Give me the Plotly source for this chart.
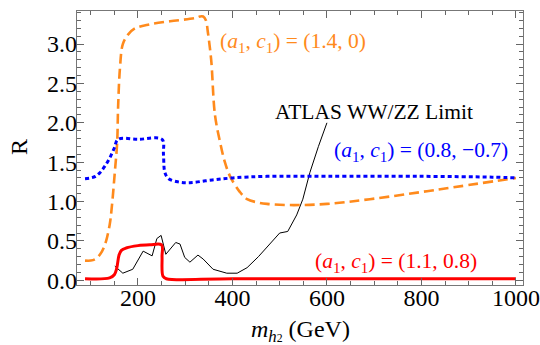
import plotly.graph_objects as go

# Orange dashed: (a1, c1) = (1.4, 0)
orange_x = [88, 100, 110, 120, 130, 140, 145, 151, 156, 158, 162, 168, 179, 194, 225, 268, 321, 331, 338, 344, 348, 355, 363, 374, 384, 395, 416, 431, 452, 473, 530, 600, 691, 833, 1000]
orange_y = [0.25, 0.25, 0.27, 0.33, 0.45, 0.7, 0.95, 1.37, 1.75, 2.2, 2.7, 3.0, 3.12, 3.2, 3.25, 3.29, 3.33, 3.35, 3.35, 3.3, 3.15, 2.8, 2.1, 1.75, 1.5, 1.32, 1.12, 1.03, 0.99, 0.97, 0.955, 0.97, 1.03, 1.15, 1.3]

# Blue dotted: (a1, c1) = (0.8, -0.7)
blue_x = [88, 100, 110, 120, 130, 140, 150, 158, 200, 251, 254, 257, 265, 285, 310, 352, 401, 473, 600, 800, 950, 1000]
blue_y = [1.29, 1.30, 1.32, 1.37, 1.45, 1.55, 1.68, 1.79, 1.79, 1.79, 1.6, 1.37, 1.29, 1.25, 1.24, 1.27, 1.30, 1.32, 1.32, 1.32, 1.31, 1.30]

# Red solid: (a1, c1) = (1.1, 0.8)
red_x = [88, 140, 150, 155, 160, 165, 175, 200, 225, 250, 251, 253, 260, 400, 1000]
red_y = [0.02, 0.03, 0.07, 0.15, 0.32, 0.38, 0.41, 0.44, 0.45, 0.45, 0.3, 0.05, 0.02, 0.02, 0.02]

# Black: ATLAS WW/ZZ limit
atlas_x = [151, 168, 189, 211, 230, 240, 249, 259, 280, 289, 299, 310, 327, 338, 359, 388, 410, 431, 455, 473, 490, 500, 517, 536, 549, 564, 582, 600]
atlas_y = [0.18, 0.09, 0.14, 0.37, 0.31, 0.53, 0.57, 0.33, 0.48, 0.46, 0.29, 0.23, 0.32, 0.27, 0.14, 0.09, 0.09, 0.16, 0.3, 0.42, 0.52, 0.6, 0.62, 0.83, 1.03, 1.37, 1.7, 2.0]

x_ticks = [200, 400, 600, 800, 1000]
y_ticks = [0.0, 0.5, 1.0, 1.5, 2.0, 2.5, 3.0]

ORANGE = "#FF8A1C"
BLUE = "#0000FF"
RED = "#FF0000"
FONT = "Liberation Serif, Times New Roman, serif"
ANN = 21.5

fig = go.Figure()
fig.add_trace(go.Scatter(x=atlas_x, y=atlas_y, mode="lines",
                         line=dict(color="black", width=1), hoverinfo="skip"))
fig.add_trace(go.Scatter(x=orange_x, y=orange_y, mode="lines", line_shape="spline",
                         line=dict(color=ORANGE, width=2.6, dash="10px,5px")))
fig.add_trace(go.Scatter(x=blue_x, y=blue_y, mode="lines", line_shape="spline",
                         line=dict(color=BLUE, width=3, dash="4px,3px")))
fig.add_trace(go.Scatter(x=red_x, y=red_y, mode="lines", line_shape="spline",
                         line=dict(color=RED, width=3)))

lab = "(<i>a</i><sub>1</sub>, <i>c</i><sub>1</sub>) = "
fig.add_annotation(x=528, y=3.015, text=lab + "(1.4, 0)", showarrow=False,
                   font=dict(family=FONT, size=ANN, color=ORANGE))
fig.add_annotation(x=699, y=2.14, text="ATLAS WW/ZZ Limit", showarrow=False,
                   font=dict(family=FONT, size=ANN, color="black"))
fig.add_annotation(x=799, y=1.63, text=lab + "(0.8, −0.7)", showarrow=False,
                   font=dict(family=FONT, size=ANN, color=BLUE))
fig.add_annotation(x=746, y=0.23, text=lab + "(1.1, 0.8)", showarrow=False,
                   font=dict(family=FONT, size=ANN, color=RED))

fig.add_annotation(x=0.5, y=-0.105, xref="paper", yref="paper", yanchor="top", xanchor="center",
                   text="<i>m</i><sub><i>h</i><span style='font-size:70%'>2</span></sub> (GeV)",
                   showarrow=False, font=dict(family=FONT, size=24, color="black"))
fig.add_annotation(x=-0.130, y=0.504, xref="paper", yref="paper", textangle=-90,
                   xanchor="center", yanchor="middle",
                   text="R", showarrow=False,
                   font=dict(family=FONT, size=24, color="black"))

axis_common = dict(showgrid=False, zeroline=False, showline=True, linecolor="#777777",
                   linewidth=1.2, mirror="ticks", ticks="inside", ticklen=7, tickwidth=1,
                   tickcolor="#666666", automargin=False,
                   tickfont=dict(family=FONT, size=24, color="black"))
fig.update_xaxes(range=[71, 1015], tickvals=x_ticks, ticklabelstandoff=-9,
                 minor=dict(dtick=50, tick0=0, ticks="inside", ticklen=4, tickcolor="#666666"),
                 **axis_common)
fig.update_yaxes(range=[-0.06, 3.42], tickvals=y_ticks, tickformat=".1f", ticklabelstandoff=-6,
                 minor=dict(dtick=0.1, tick0=0, ticks="inside", ticklen=4, tickcolor="#666666"),
                 **axis_common)
fig.update_layout(width=540, height=345, margin=dict(l=77, r=17, t=11, b=60),
                  template="none", font=dict(family=FONT, size=20, color="black"),
                  paper_bgcolor="white", plot_bgcolor="white", showlegend=False)
fig.write_html("out.html", config={"displayModeBar": False},
               post_script="document.body.style.margin='0';document.body.style.overflow='hidden';")
